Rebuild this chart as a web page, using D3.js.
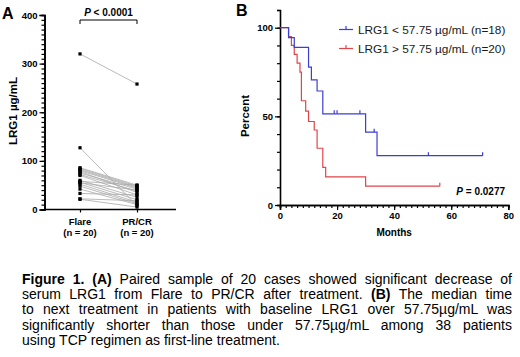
<!DOCTYPE html>
<html>
<head>
<meta charset="utf-8">
<script src="https://cdn.jsdelivr.net/npm/d3@7"></script>
<style>
  body { margin: 0; background: #fff; }
  #wrap { position: relative; width: 520px; height: 357px; overflow: hidden; }
  svg text { font-family: "Liberation Sans", Arial, sans-serif; }
  .cap { position: absolute; left: 22px; top: 272px; width: 490px;
         font-family: "Liberation Sans", Arial, sans-serif; font-size: 14px;
         line-height: 15.2px; color: #000; }
  .cap div { text-align: justify; text-align-last: justify; white-space: nowrap; }
  .cap div.last { text-align-last: left; }
</style>
</head>
<body>
<div id="wrap">
  <svg id="chart" width="520" height="357"></svg>
  <div class="cap" id="cap"></div>
</div>
<script>
// ---- panel A data (paired LRG1, ug/mL) ----
const groups = ["Flare", "PR/CR"];
const groupN = ["(n = 20)", "(n = 20)"];
const flare = [320, 127, 86, 84, 82, 80, 78, 75, 72, 70, 60, 58, 56, 55, 52, 48, 42, 33, 22, 21];
const prcr  = [258, 8, 50, 48, 46, 44, 35, 42, 38, 30, 25, 50, 20, 40, 15, 12, 10, 30, 18, 5];
const yTicksA = [0, 100, 200, 300, 400];

// ---- panel B data (Kaplan-Meier, percent) ----
const blueTimes = [0, 3, 5, 10, 11, 13, 15, 30, 34, 71];
const blueSurv  = [100, 94.4, 88.9, 77.8, 70.6, 64.3, 51.4, 41.1, 27.8, 27.8];
const blueCensor = [19, 20, 28, 33, 52, 71];
const redTimes = [0, 3, 4, 5, 6, 7, 7.5, 9, 10, 12, 13, 15, 16, 30, 56];
const redSurv  = [100, 95, 90, 85, 80, 75, 58.8, 52.9, 47.1, 42.3, 32, 21.2, 15.9, 10.6, 10.6];
const redCensor = [56];
const xTicksB = [0, 20, 40, 60, 80];
const yTicksB = [0, 50, 100];
const legendLabels = ["LRG1 < 57.75 \u00b5g/mL (n=18)", "LRG1 > 57.75 \u00b5g/mL (n=20)"];

const caption = [
  "<b>Figure 1. (A)</b> Paired sample of 20 cases showed significant decrease of",
  "serum LRG1 from Flare to PR/CR after treatment. <b>(B)</b> The median time",
  "to next treatment in patients with baseline LRG1 over 57.75\u00b5g/mL was",
  "significantly shorter than those under 57.75\u00b5g/mL among 38 patients",
  "using TCP regimen as first-line treatment."
];

const svg = d3.select("#chart");
const BLUE = "#3a3fd4", RED = "#e0454a";

function styleAxis(g) {
  g.select(".domain").attr("stroke", "#000").attr("stroke-width", 1.6);
  g.selectAll(".tick line").attr("stroke", "#000").attr("stroke-width", 1.2);
  g.selectAll(".tick text").attr("font-weight", "bold").attr("font-size", 9.5).attr("fill", "#000");
}

// ================= Panel A =================
const yA = d3.scaleLinear().domain([0, 400]).range([209.5, 15]);
const xA = d3.scalePoint().domain(groups).range([80, 137]);
const gA = svg.append("g");

// y axis minor ticks
gA.append("g").attr("transform", "translate(44.5,0)")
  .call(d3.axisLeft(yA).tickValues(d3.range(0, 401, 10)).tickSize(3).tickFormat(""))
  .call(styleAxis);
gA.append("g").attr("transform", "translate(44.5,0)")
  .call(d3.axisLeft(yA).tickValues(yTicksA).tickSize(5).tickPadding(2))
  .call(styleAxis);

// x axis
gA.append("line").attr("x1", 44.5).attr("x2", 176).attr("y1", 209.5).attr("y2", 209.5)
  .attr("stroke", "#000").attr("stroke-width", 1.6);
const xAx = gA.append("g").attr("transform", "translate(0,209.5)")
  .call(d3.axisBottom(xA).tickSize(3).tickFormat(""));
xAx.select(".domain").remove();
xAx.selectAll(".tick line").attr("stroke", "#000").attr("stroke-width", 1.2);
groups.forEach((g, i) => {
  gA.append("text").attr("x", xA(g)).attr("y", 225).attr("text-anchor", "middle")
    .attr("font-size", 9.5).attr("font-weight", "bold").text(g);
  gA.append("text").attr("x", xA(g)).attr("y", 235.5).attr("text-anchor", "middle")
    .attr("font-size", 9.5).attr("font-weight", "bold").text(groupN[i]);
});

// paired lines
flare.forEach((v, i) => {
  gA.append("line")
    .attr("x1", xA(groups[0])).attr("y1", yA(v))
    .attr("x2", xA(groups[1])).attr("y2", yA(prcr[i]))
    .attr("stroke", "#a8a8a8").attr("stroke-width", 0.8);
});
[flare, prcr].forEach((arr, k) => {
  gA.selectAll(null).data(arr).enter().append("rect")
    .attr("x", xA(groups[k]) - 1.6).attr("y", d => yA(d) - 1.6)
    .attr("width", 3.2).attr("height", 3.2).attr("fill", "#000");
});

// y label
gA.append("text").attr("transform", "translate(17,111) rotate(-90)")
  .attr("text-anchor", "middle").attr("font-size", 11.5).attr("font-weight", "bold")
  .text("LRG1 \u00b5g/mL");
// bracket
gA.append("path")
  .attr("d", `M${xA(groups[0])},24 V20 H${xA(groups[1])} V24`)
  .attr("fill", "none").attr("stroke", "#000").attr("stroke-width", 1);
const pA = gA.append("text").attr("x", (xA(groups[0]) + xA(groups[1])) / 2).attr("y", 15.5)
  .attr("text-anchor", "middle").attr("font-size", 10).attr("font-weight", "bold");
pA.append("tspan").attr("font-style", "italic").text("P");
pA.append("tspan").text(" < 0.0001");
svg.append("text").attr("x", 2).attr("y", 19).attr("font-size", 16).attr("font-weight", "bold").text("A");

// ================= Panel B =================
const xB = d3.scaleLinear().domain([0, 80]).range([280, 508.3]);
const yB = d3.scaleLinear().domain([0, 100]).range([205, 27.7]);
const gB = svg.append("g");

gB.append("g").attr("transform", "translate(0,205)")
  .call(d3.axisBottom(xB).tickValues(d3.range(0, 81, 2)).tickSize(3).tickFormat(""))
  .call(styleAxis);
gB.append("g").attr("transform", "translate(0,205)")
  .call(d3.axisBottom(xB).tickValues(xTicksB).tickSize(5).tickPadding(2))
  .call(styleAxis);
gB.append("g").attr("transform", "translate(280,0)")
  .call(d3.axisLeft(yB.copy().domain([0, 110]).range([205, 10])).tickValues(d3.range(0, 111, 10)).tickSize(3).tickFormat(""))
  .call(styleAxis);
gB.append("g").attr("transform", "translate(280,0)")
  .call(d3.axisLeft(yB).tickValues(yTicksB).tickSize(5).tickPadding(2))
  .call(styleAxis)
  .call(g => g.select(".domain").remove());

gB.append("text").attr("x", xB(40)).attr("y", 236).attr("text-anchor", "middle")
  .attr("font-size", 10).attr("font-weight", "bold").text("Months");
gB.append("text").attr("transform", "translate(249,116) rotate(-90)")
  .attr("text-anchor", "middle").attr("font-size", 11.5).attr("font-weight", "bold").text("Percent");
svg.append("text").attr("x", 236).attr("y", 16).attr("font-size", 16).attr("font-weight", "bold").text("B");

const step = d3.line().x(d => xB(d[0])).y(d => yB(d[1])).curve(d3.curveStepAfter);
function survAt(times, surv, t) {
  let s = surv[0];
  times.forEach((tt, i) => { if (tt <= t) s = surv[i]; });
  return s;
}
function drawKM(times, surv, censor, color) {
  gB.append("path").datum(times.map((t, i) => [t, surv[i]]))
    .attr("d", step).attr("fill", "none").attr("stroke", color).attr("stroke-width", 1.2);
  gB.selectAll(null).data(censor).enter().append("line")
    .attr("x1", d => xB(d)).attr("x2", d => xB(d))
    .attr("y1", d => yB(survAt(times, surv, d))).attr("y2", d => yB(survAt(times, surv, d)) - 3.5)
    .attr("stroke", color).attr("stroke-width", 1.2);
}
drawKM(redTimes, redSurv, redCensor, RED);
drawKM(blueTimes, blueSurv, blueCensor, BLUE);

// legend
[BLUE, RED].forEach((c, i) => {
  const ly = 29.5 + i * 19;
  gB.append("line").attr("x1", 339).attr("x2", 353).attr("y1", ly).attr("y2", ly)
    .attr("stroke", c).attr("stroke-width", 1.2);
  gB.append("line").attr("x1", 346).attr("x2", 346).attr("y1", ly).attr("y2", ly - 3.5)
    .attr("stroke", c).attr("stroke-width", 1.2);
  gB.append("text").attr("x", 358).attr("y", ly + 4.2).attr("font-size", 11.8)
    .attr("fill", "#1a1a1a").text(legendLabels[i]);
});

const pB = gB.append("text").attr("x", 505).attr("y", 195).attr("text-anchor", "end")
  .attr("font-size", 10).attr("font-weight", "bold");
pB.append("tspan").attr("font-style", "italic").text("P");
pB.append("tspan").text(" = 0.0277");

// caption
d3.select("#cap").selectAll("div").data(caption).enter().append("div")
  .attr("class", (d, i) => i === caption.length - 1 ? "last" : null)
  .html(d => d);
</script>
</body>
</html>
